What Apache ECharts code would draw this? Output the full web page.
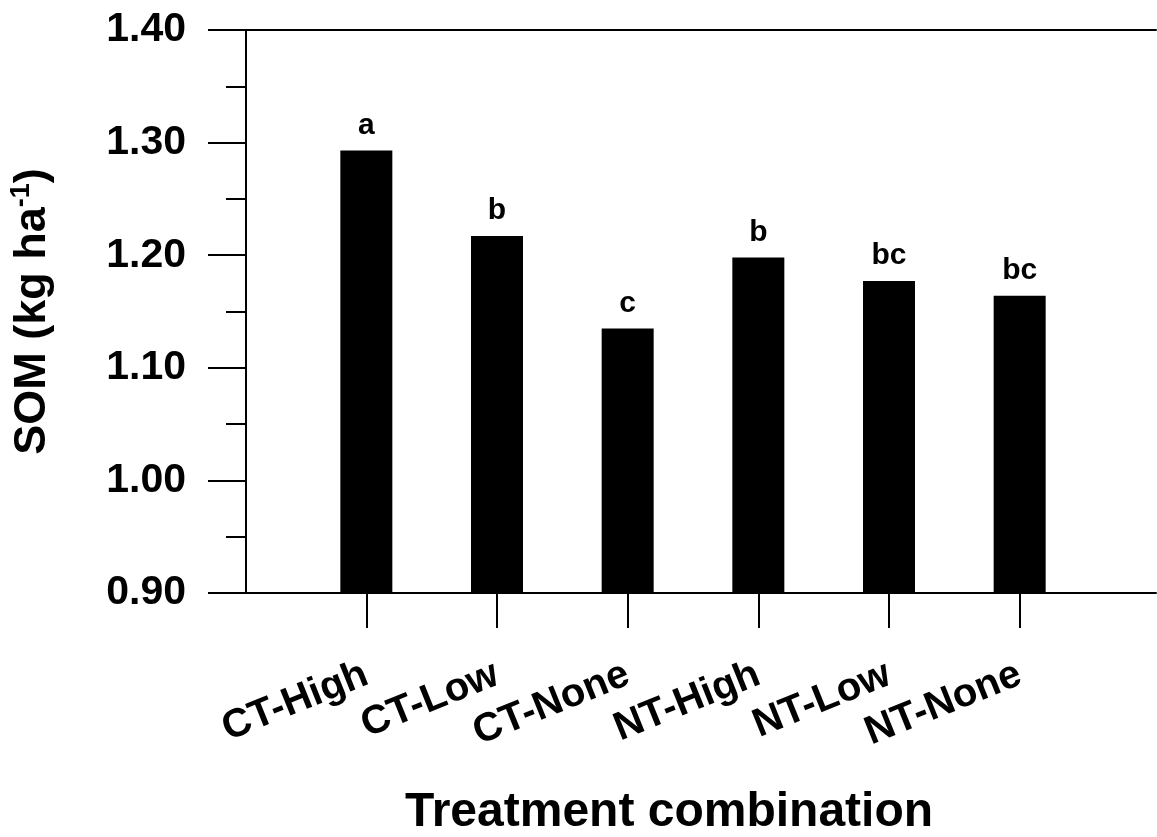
<!DOCTYPE html>
<html style="height: 100%;">
  <head>
    <meta charset="utf-8" />
  </head>
  <body style="height: 100%; margin: 0; background: #fff;">
    <div id="container" style="width: 1157px; height: 837px;"></div>
    <script src="https://cdn.jsdelivr.net/npm/echarts@6/dist/echarts.min.js"></script>
    <script type="text/javascript">
      // data
      var treatments = ["CT-High", "CT-Low", "CT-None", "NT-High", "NT-Low", "NT-None"];
      var somValues = [1.293, 1.217, 1.135, 1.198, 1.177, 1.164];
      var letters = ["a", "b", "c", "b", "bc", "bc"];
      var yTicks = [0.9, 1.0, 1.1, 1.2, 1.3, 1.4];

      var font = "'Liberation Sans', Arial, sans-serif";
      var dom = document.getElementById("container");
      var myChart = echarts.init(dom);

      var yMin = yTicks[0], yMax = yTicks[yTicks.length - 1];

      var option = {
        backgroundColor: "#fff",
        animation: false,
        title: {
          text: "Treatment combination",
          left: 400,
          top: 784,
          textStyle: { fontFamily: font, fontWeight: "bold", fontSize: 48, color: "#000" },
        },
        grid: [
          // frame grid
          { left: 243, right: 1, top: 30, bottom: 244 },
          // bar grid
          { left: 301, width: 784, top: 30, bottom: 244 },
        ],
        xAxis: [
          {
            gridIndex: 0, type: "value", min: 0, max: 1, position: "bottom",
            axisLine: { show: true, lineStyle: { color: "#000", width: 2 } },
            axisTick: { show: false }, axisLabel: { show: false }, splitLine: { show: false },
          },
          {
            gridIndex: 0, type: "value", min: 0, max: 1, position: "top",
            axisLine: { show: true, lineStyle: { color: "#000", width: 2 } },
            axisTick: { show: false }, axisLabel: { show: false }, splitLine: { show: false },
          },
          {
            gridIndex: 1, type: "category", data: treatments, position: "bottom",
            axisLine: { show: false },
            axisTick: { show: true, alignWithLabel: true, length: 35, lineStyle: { color: "#000", width: 2 } },
            axisLabel: {
              rotate: 22, margin: 80, interval: 0,
              fontFamily: font, fontWeight: "bold", fontSize: 40, color: "#000",
            },
          },
        ],
        yAxis: [
          {
            gridIndex: 0, type: "value", min: yMin, max: yMax, interval: 0.1,
            name: "{a|SOM (kg ha}{sup|-1}{a|)}",
            nameLocation: "middle", nameRotate: 90, nameGap: 188,
            nameTextStyle: {
              rich: {
                a: { fontFamily: font, fontWeight: "bold", fontSize: 45, color: "#000", lineHeight: 50 },
                sup: { fontFamily: font, fontWeight: "bold", fontSize: 27, color: "#000", verticalAlign: "top", lineHeight: 50 },
              },
            },
            axisLine: { show: true, lineStyle: { color: "#000", width: 2 } },
            axisTick: { show: true, length: 38, lineStyle: { color: "#000", width: 2 } },
            minorTick: { show: true, splitNumber: 2, length: 20, lineStyle: { color: "#000", width: 2 } },
            axisLabel: {
              margin: 60,
              fontFamily: font, fontWeight: "bold", fontSize: 41, color: "#000",
              formatter: function (v) { return v.toFixed(2); },
            },
            splitLine: { show: false },
          },
          {
            gridIndex: 0, type: "value", min: yMin, max: yMax, position: "right",
            axisLine: { show: true, lineStyle: { color: "#000", width: 2 } },
            axisTick: { show: false }, axisLabel: { show: false }, splitLine: { show: false },
          },
          {
            gridIndex: 1, type: "value", min: yMin, max: yMax, show: false,
          },
        ],
        series: [
          {
            type: "bar",
            xAxisIndex: 2,
            yAxisIndex: 2,
            barWidth: 52,
            itemStyle: { color: "#000" },
            label: {
              show: true,
              position: "top",
              distance: 10,
              fontFamily: font, fontWeight: "bold", fontSize: 30, color: "#000",
              formatter: function (p) { return letters[p.dataIndex]; },
            },
            data: somValues,
          },
        ],
      };

      myChart.setOption(option);
    </script>
  </body>
</html>
